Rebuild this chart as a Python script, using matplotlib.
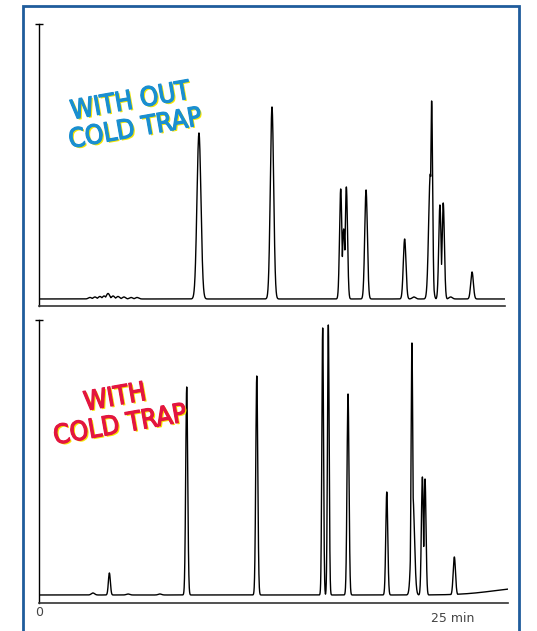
"""
GC chromatograms: without / with cold trap
"""

import numpy as np
import matplotlib.pyplot as plt
import matplotlib.patheffects as pe
from matplotlib.patches import Rectangle

# peak tables (retention time in min, height, width sigma in min)
top_rt = [3.08, 3.38, 3.68, 3.93, 4.17, 4.47, 4.77, 5.13, 5.56, 5.92,
          9.66, 14.07, 18.22, 18.40, 18.56, 19.75, 22.08, 22.64,
          23.63, 23.71, 24.21, 24.41, 24.86, 26.15]
top_h = [1.5, 2, 2.5, 3, 5.5, 3, 2.5, 2, 1.5, 1.5,
         166, 192, 110, 70, 112, 109, 60, 2,
         125, 198, 94, 96, 2, 27]
top_w = [0.1, 0.1, 0.1, 0.1, 0.1, 0.1, 0.1, 0.1, 0.1, 0.1,
         0.12, 0.1, 0.07, 0.08, 0.07, 0.08, 0.08, 0.1,
         0.1, 0.06, 0.07, 0.07, 0.1, 0.08]

bot_rt = [3.26, 4.25, 5.37, 7.30, 8.92, 13.15, 17.13, 17.47, 18.66,
          21.00, 22.52, 22.57, 23.15, 23.31, 25.08, 29.5]
bot_h = [2, 22, 1, 1, 208, 219, 267, 270, 201,
         103, 252, 100, 118, 116, 38, 7]
bot_w = [0.1, 0.06, 0.1, 0.1, 0.06, 0.06, 0.05, 0.05, 0.06,
         0.06, 0.05, 0.1, 0.06, 0.06, 0.07, 2.0]

t_max_top = 28.14
t_max_bot = 28.32

top_label = "WITH OUT\nCOLD TRAP"
bot_label = "WITH\nCOLD TRAP"


def trace(t, rt, h, w):
    peaks = [hh * np.exp(-0.5 * ((t - r) / ww) ** 2) for r, hh, ww in zip(rt, h, w)]
    return np.max(peaks, axis=0)


fig = plt.figure(figsize=(5.37, 6.31), dpi=100)

ax1 = fig.add_axes([0.0726, 0.5151, 0.8678, 0.4469])
ax2 = fig.add_axes([0.0726, 0.0444, 0.8734, 0.4485])

t1 = np.arange(0, t_max_top, 0.005)
t2 = np.arange(0, t_max_bot, 0.005)
ax1.plot(t1, trace(t1, top_rt, top_h, top_w), color='black', lw=1.0)
ax2.plot(t2, trace(t2, bot_rt, bot_h, bot_w), color='black', lw=1.0)

ax1.set_xlim(0, t_max_top)
ax1.set_ylim(-7, 275)
ax2.set_xlim(0, t_max_bot)
ax2.set_ylim(-8, 275)

for ax in (ax1, ax2):
    for s in ('top', 'right'):
        ax.spines[s].set_visible(False)
    ax.spines['left'].set_linewidth(1.0)
    ax.spines['bottom'].set_linewidth(1.2)
    ax.spines['bottom'].set_color('#333333')
    ax.set_yticks([ax.get_ylim()[1]])
    ax.tick_params(axis='y', direction='inout', length=6, width=1, labelleft=False)
    ax.set_xticks([])

ax2.set_xticks([0])
ax2.set_xticklabels(['0'])
ax2.tick_params(axis='x', length=0, pad=2, labelsize=9, labelcolor='#444444')
ax2.annotate('25 min', xy=(25, 0), xycoords=('data', 'axes fraction'),
             xytext=(0, -6.5), textcoords='offset points', ha='center', va='top',
             fontsize=9, color='#444444')

font = ['DejaVu Sans']


def stamp(color):
    # yellow offset shadow, then a thin stroke to make the letters heavier
    return [pe.withSimplePatchShadow(offset=(1.2, -1.0), shadow_rgbFace='#f7e600', alpha=1.0),
            pe.Stroke(linewidth=0.9, foreground=color), pe.Normal()]


ax1.text(0.2017, 0.675, top_label, transform=ax1.transAxes, ha='center', va='center',
         multialignment='center', rotation=10, fontsize=19, fontweight='normal',
         fontstretch='condensed', family=font, color='#1a8fd0', linespacing=1.1,
         path_effects=stamp('#1a8fd0'))
ax2.text(0.168, 0.675, bot_label, transform=ax2.transAxes, ha='center', va='center',
         multialignment='center', rotation=10, fontsize=19, fontweight='normal',
         fontstretch='condensed', family=font, color='#e3163f', linespacing=1.1,
         path_effects=stamp('#e3163f'))

# blue frame round the whole figure
fig.patches.append(Rectangle((0.0428, -0.05), 0.9237, 1.0405, transform=fig.transFigure,
                             fill=False, edgecolor='#1f5c9c', lw=2.0))

plt.savefig('out.png', dpi=100)
